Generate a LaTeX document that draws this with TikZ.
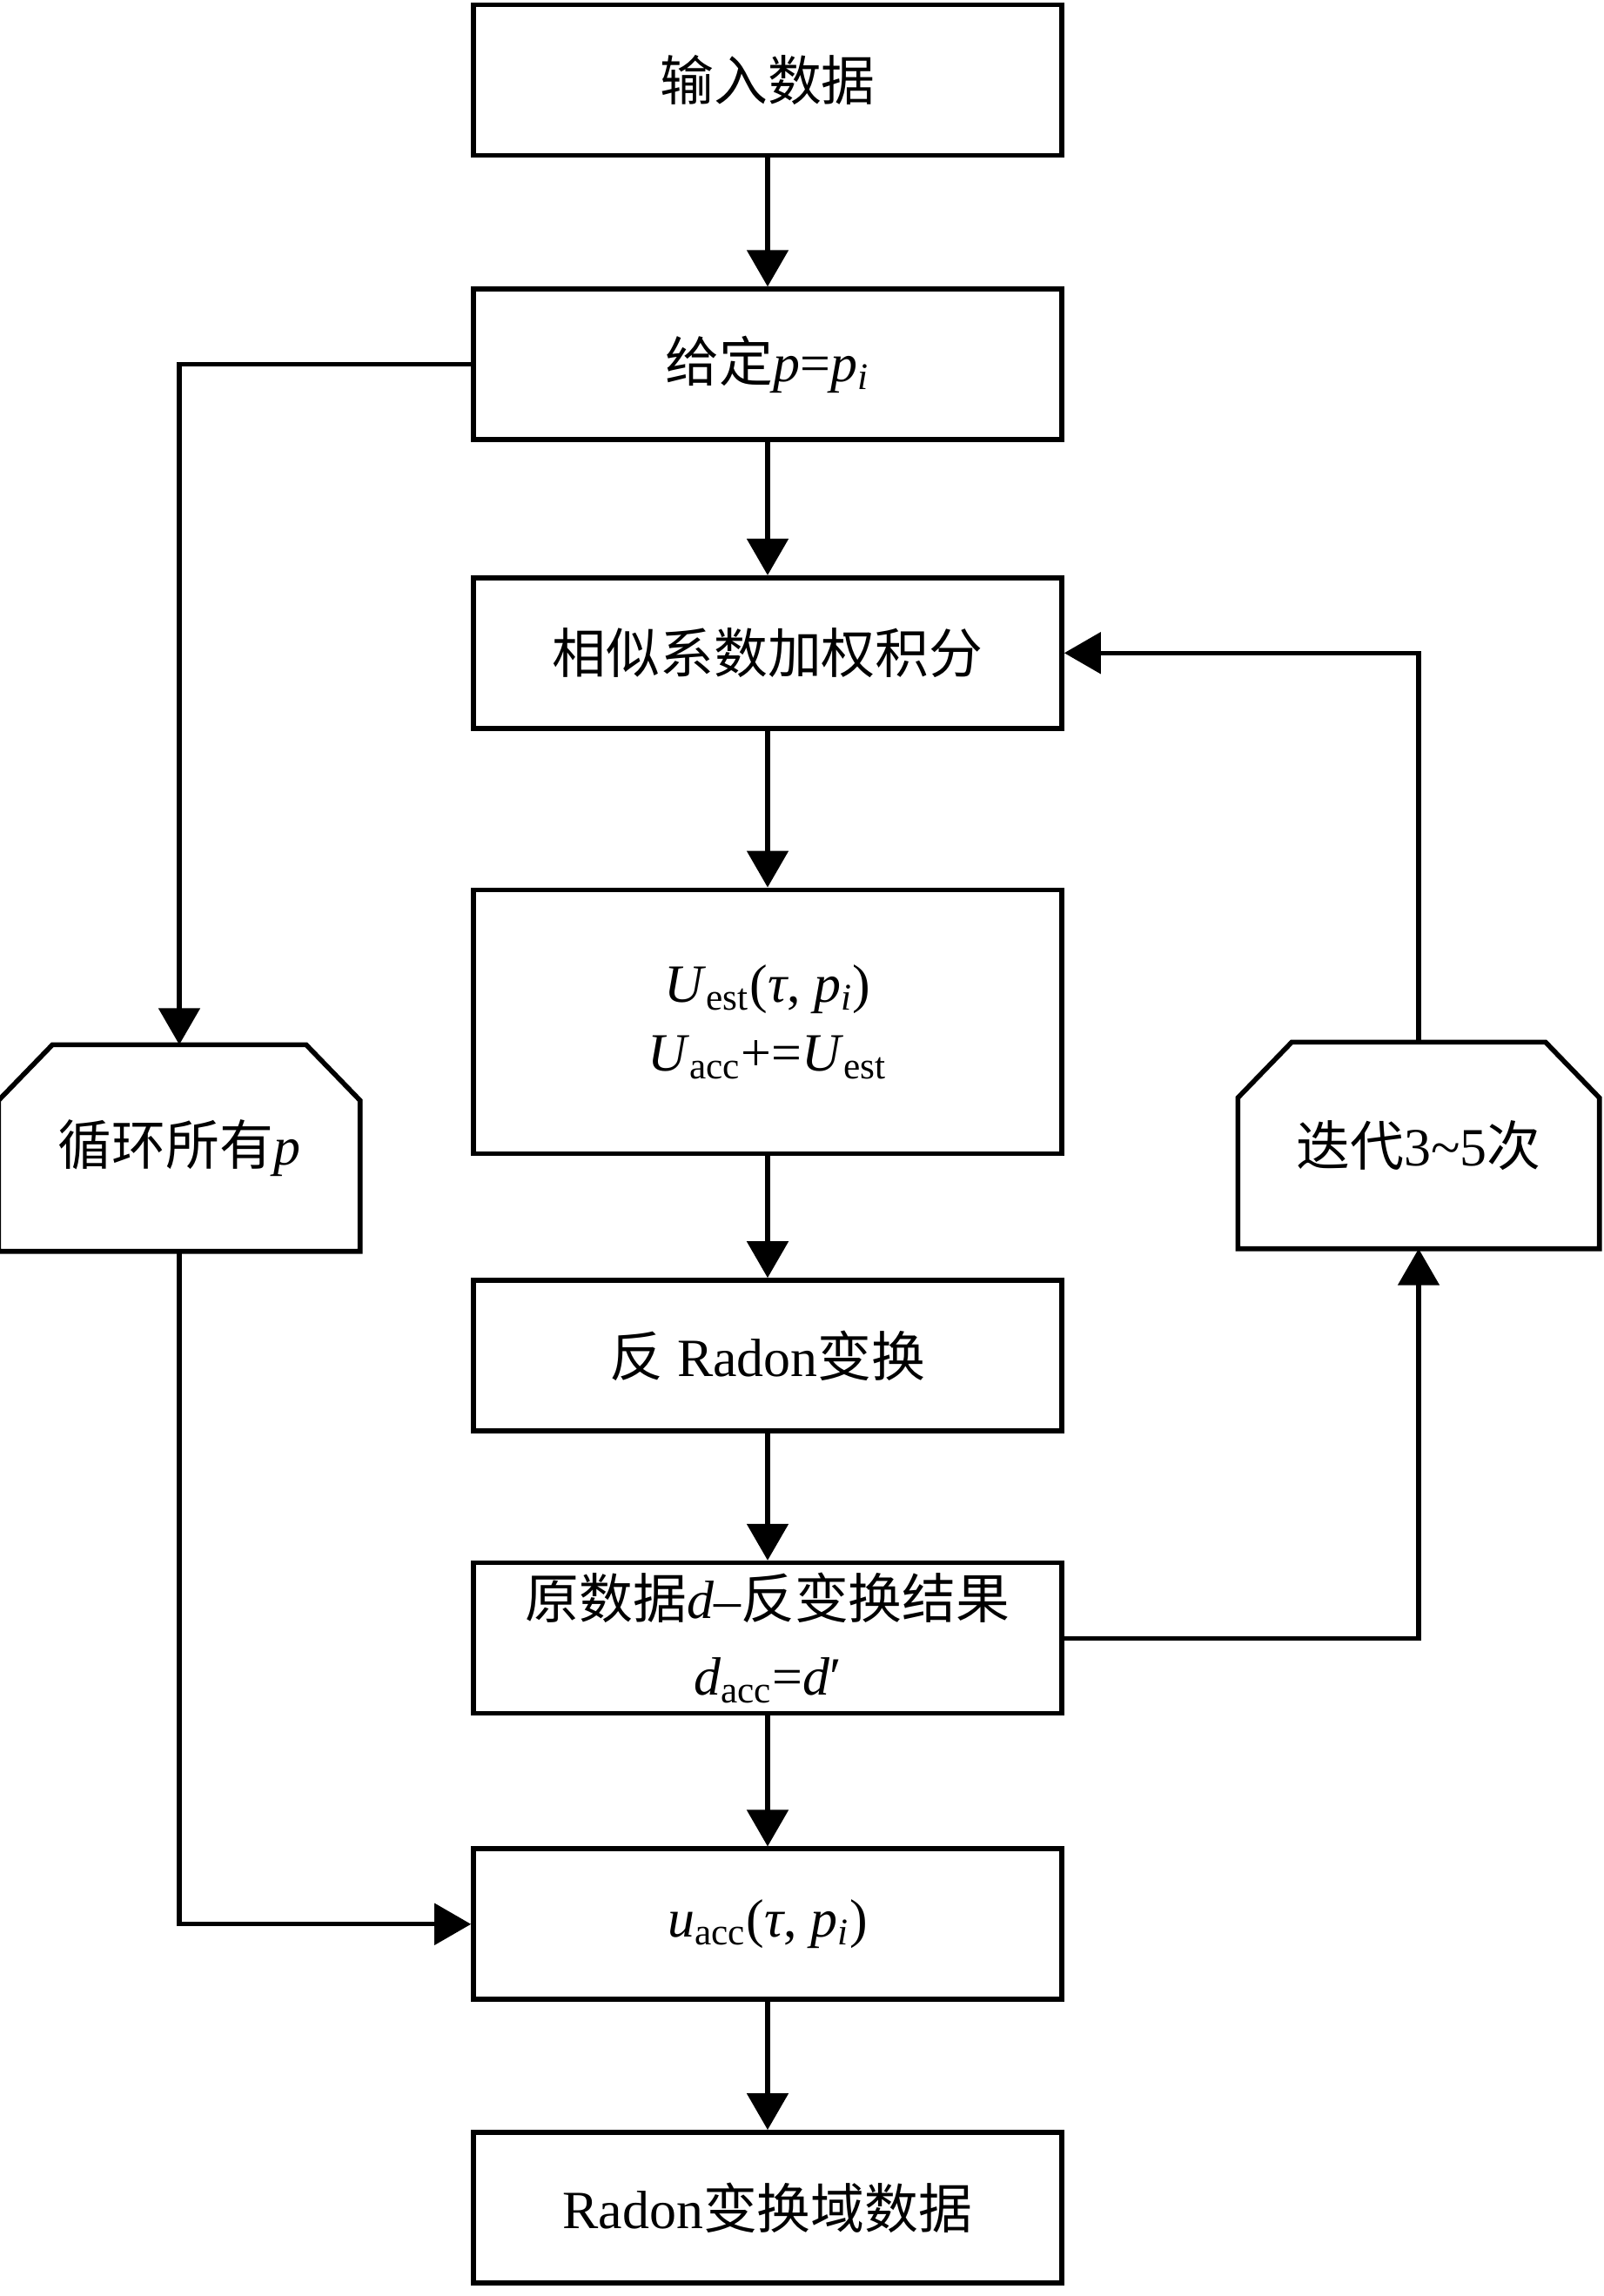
\documentclass[tikz,border=0pt]{standalone}
\usepackage{fontspec}
\setmainfont{Liberation Serif}
\newfontfamily\cjk{Noto Sans CJK SC}
\usepackage{tikz}
\usetikzlibrary{positioning,arrows.meta}

\tikzset{
  stepbox/.style={draw, shape=rectangle, line width=1.6pt, inner sep=0pt,
    minimum width=6.76cm, minimum height=1.73cm, align=center,
    font=\fontsize{17.6pt}{22.5pt}\selectfont},
  loopbox/.style={shape=rectangle, inner sep=0pt, minimum width=4.14cm,
    minimum height=2.36cm, align=center, font=\fontsize{17.6pt}{22.5pt}\selectfont},
  flow/.style={-{Triangle[length=0.42cm,width=0.47cm]}, line width=1.5pt}
}

\begin{document}
\begin{tikzpicture}
  \useasboundingbox (0,0) rectangle (18.43,-26.38);
  \node (step1) [stepbox] at (8.82,-0.92) {\cjk 输入数据};
  \node (step2) [stepbox, below=1.48cm of step1] {{\cjk 给定}\textit{p}=\textit{p}\textsubscript{\textit{i}}};
  \node (step3) [stepbox, below=1.53cm of step2] {\cjk 相似系数加权积分};
  \node (step4) [stepbox, below=1.80cm of step3, minimum height=3.03cm]
    {\textit{U}\textsubscript{est}(\textit{τ}, \textit{p}\textsubscript{\textit{i}})\\
     \textit{U}\textsubscript{acc}+=\textit{U}\textsubscript{est}};
  \node (step5) [stepbox, below=1.40cm of step4] {{\cjk 反} Radon{\cjk 变换}};
  \node (step6) [stepbox, below=1.46cm of step5, font=\fontsize{17.6pt}{25pt}\selectfont]
    {{\cjk 原数据}\textit{d}–{\cjk 反变换结果}\\ \textit{d}\textsubscript{acc}=\textit{d}′};
  \node (step7) [stepbox, below=1.50cm of step6] {\textit{u}\textsubscript{acc}(\textit{τ}, \textit{p}\textsubscript{\textit{i}})};
  \node (step8) [stepbox, below=1.47cm of step7] {Radon{\cjk 变换域数据}};

  \node (loopL) [loopbox] at (2.06,-13.19) {{\cjk 循环所有}\textit{p}};
  \node (loopR) [loopbox] at (16.30,-13.16) {{\cjk 迭代}3\textasciitilde5{\cjk 次}};
  \foreach \n in {loopL,loopR}
    \draw[line width=1.6pt] (\n.south west) -- ([yshift=-0.64cm]\n.north west)
      -- ([xshift=0.62cm]\n.north west) -- ([xshift=-0.62cm]\n.north east)
      -- ([yshift=-0.64cm]\n.north east) -- (\n.south east) -- cycle;

  \foreach \a/\b in {step1/step2,step2/step3,step3/step4,step4/step5,step5/step6,step6/step7,step7/step8}
    \draw[flow] (\a) -- (\b);
  \draw[flow] (step2.west) -| (loopL.north);
  \draw[flow] (loopL.south) |- (step7.west);
  \draw[flow] (step6.east) -| (loopR.south);
  \draw[flow] (loopR.north) |- (step3.east);
\end{tikzpicture}
\end{document}
